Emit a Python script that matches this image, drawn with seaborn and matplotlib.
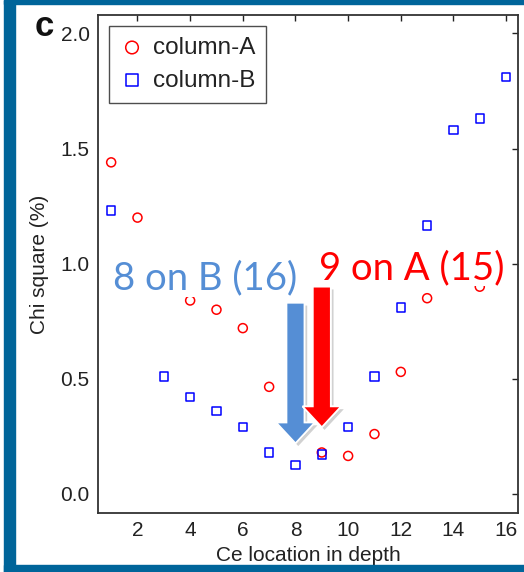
import matplotlib
matplotlib.use("Agg")
import matplotlib.pyplot as plt
import matplotlib.patheffects as pe
from matplotlib.patches import Rectangle
import seaborn as sns
import pandas as pd

# ---- data ----
a_x = [1, 2, 4, 5, 6, 7, 9, 10, 11, 12, 13, 15]
a_y = [1.44, 1.20, 0.84, 0.80, 0.72, 0.465, 0.18, 0.165, 0.26, 0.53, 0.85, 0.90]
b_x = [1, 3, 4, 5, 6, 7, 8, 9, 10, 11, 12, 13, 14, 15, 16]
b_y = [1.23, 0.51, 0.42, 0.36, 0.29, 0.18, 0.125, 0.17, 0.29, 0.51, 0.81, 1.165, 1.58, 1.63, 1.81]
x_ticks = [2, 4, 6, 8, 10, 12, 14, 16]
y_ticks = [0.0, 0.5, 1.0, 1.5, 2.0]
best_b = (8, 0.83, 0.22)   # location, arrow start, arrow end
best_a = (9, 0.90, 0.29)
label_b = "8 on B (16)"
label_a = "9 on A (15)"

sns.set_theme(style="white")
plt.rcParams['font.family'] = ['Liberation Sans', 'DejaVu Sans']

fig = plt.figure(figsize=(5.24, 5.72), dpi=100)
ax = fig.add_axes([0.187, 0.1031, 0.9885 - 0.187, 0.9738 - 0.1031])

df_a = pd.DataFrame({"x": a_x, "y": a_y})
df_b = pd.DataFrame({"x": b_x, "y": b_y})
sns.scatterplot(data=df_a, x="x", y="y", ax=ax, marker="o", s=42,
                facecolors="none", edgecolor="#FF0000", linewidth=1.1,
                label="column-A", zorder=3)
sns.scatterplot(data=df_b, x="x", y="y", ax=ax, marker="s", s=38,
                facecolors="none", edgecolor="#0000FF", linewidth=1.1,
                label="column-B", zorder=3)

ax.set_xlim(0.5, 16.45)
ax.set_ylim(-0.083, 2.08)
ax.set_xticks(x_ticks)
ax.set_yticks(y_ticks)
ax.set_yticklabels([f"{v:.1f}" for v in y_ticks])
ax.tick_params(direction="in", length=4, width=1, top=True, right=True,
               labelsize=15, colors="#222222", labelcolor="#222222", pad=6)
ax.tick_params(axis="x", labeltop=False)
ax.tick_params(axis="y", labelright=False)
for s in ax.spines.values():
    s.set_visible(True)
    s.set_color("#333333")
    s.set_linewidth(1.3)
ax.set_xlabel("Ce location in depth", fontsize=15, color="#222222", labelpad=4)
ax.set_ylabel("Chi square (%)", fontsize=15, color="#222222", labelpad=8)

leg = ax.legend(loc="upper left", fontsize=17.5, frameon=True, fancybox=False,
                handletextpad=0.35, borderpad=0.45, labelspacing=0.45,
                handlelength=1.0, borderaxespad=0.45, markerscale=1.4)
leg.get_frame().set_edgecolor("#222222")
leg.get_frame().set_linewidth(1.0)
for t in leg.get_texts():
    t.set_color("#222222")

# arrows
shadow = [pe.withSimplePatchShadow(offset=(2, -2), shadow_rgbFace="#999999", alpha=0.45), pe.Normal()]
for (xp, y0, y1), col in [(best_b, "#558ED5"), (best_a, "#FF0000")]:
    ax.arrow(xp, y0, 0, y1 - y0, width=0.68, head_width=1.46, head_length=0.09,
             length_includes_head=True, facecolor=col, edgecolor="white",
             linewidth=1.2, zorder=4, path_effects=shadow)

txt_kw = dict(ha="center", va="center", fontsize=27.5, family=["Lato", "DejaVu Sans"],
              zorder=5, bbox=dict(facecolor="white", edgecolor="none", pad=0))
ax.text(4.57, 0.935, label_b, color="#558ED5", **txt_kw)
ax.text(12.4, 0.98, label_a, color="#FF0000", **txt_kw)

fig.text(0.066, 0.982, "c", fontsize=25, fontweight="bold", va="top", ha="left", color="#111111")

# frame bands
band = "#00659A"
fig.add_artist(Rectangle((4 / 524, 0), 11 / 524, 1, transform=fig.transFigure, color=band, zorder=10))
fig.add_artist(Rectangle((4 / 524, 1 - 4 / 572), 1, 4 / 572, transform=fig.transFigure, color=band, zorder=10))
fig.add_artist(Rectangle((4 / 524, 0), 1, 7 / 572, transform=fig.transFigure, color=band, zorder=10))

fig.savefig("out.png", dpi=100)
